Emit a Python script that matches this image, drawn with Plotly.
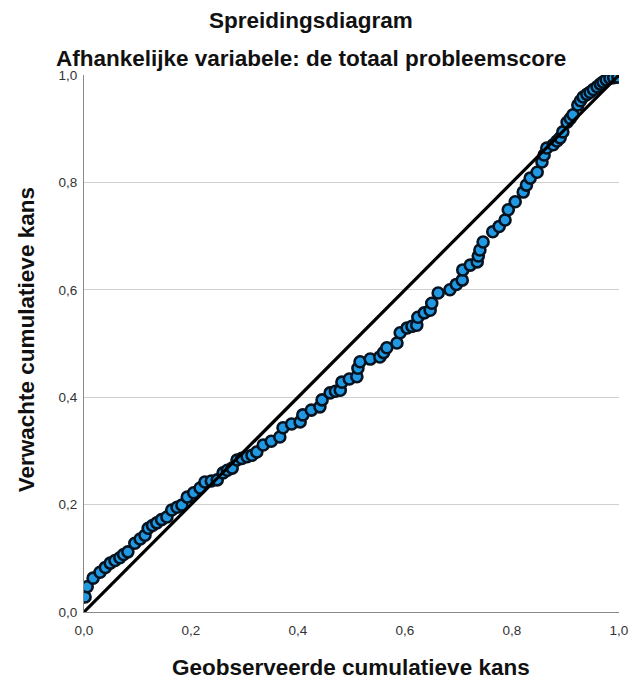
import plotly.graph_objects as go

observed = [0.002, 0.006, 0.017, 0.030, 0.040, 0.049, 0.058, 0.067, 0.074, 0.082,
            0.095, 0.105, 0.114, 0.120, 0.128, 0.136, 0.145, 0.155, 0.164, 0.174,
            0.183, 0.193, 0.205, 0.217, 0.226, 0.238, 0.249, 0.260, 0.268, 0.277,
            0.286, 0.295, 0.305, 0.314, 0.323, 0.335, 0.350, 0.366, 0.372, 0.388,
            0.404, 0.409, 0.425, 0.441, 0.445, 0.460, 0.470, 0.479, 0.482, 0.496,
            0.510, 0.512, 0.516, 0.535, 0.553, 0.560, 0.566, 0.585, 0.591, 0.604,
            0.613, 0.622, 0.624, 0.636, 0.647, 0.650, 0.662, 0.684, 0.696, 0.707,
            0.708, 0.722, 0.735, 0.737, 0.740, 0.746, 0.764, 0.776, 0.787, 0.793,
            0.806, 0.821, 0.827, 0.834, 0.847, 0.856, 0.860, 0.865, 0.877, 0.884,
            0.890, 0.895, 0.903, 0.909, 0.914, 0.923, 0.928, 0.933, 0.940, 0.946,
            0.952, 0.959, 0.965, 0.970, 0.976, 0.983, 0.990, 0.998]
expected = [0.028, 0.047, 0.063, 0.074, 0.083, 0.091, 0.096, 0.101, 0.107, 0.112,
            0.128, 0.136, 0.143, 0.156, 0.161, 0.166, 0.172, 0.177, 0.190, 0.195,
            0.199, 0.214, 0.222, 0.231, 0.242, 0.244, 0.246, 0.259, 0.264, 0.268,
            0.283, 0.286, 0.289, 0.292, 0.298, 0.311, 0.318, 0.326, 0.343, 0.350,
            0.354, 0.367, 0.376, 0.382, 0.395, 0.408, 0.411, 0.413, 0.428, 0.434,
            0.438, 0.454, 0.466, 0.471, 0.475, 0.483, 0.492, 0.501, 0.520, 0.529,
            0.532, 0.534, 0.549, 0.557, 0.562, 0.575, 0.594, 0.600, 0.610, 0.618,
            0.637, 0.646, 0.652, 0.663, 0.674, 0.689, 0.708, 0.718, 0.730, 0.749,
            0.764, 0.782, 0.795, 0.808, 0.819, 0.838, 0.851, 0.864, 0.870, 0.877,
            0.883, 0.894, 0.912, 0.919, 0.926, 0.944, 0.952, 0.959, 0.964, 0.968,
            0.973, 0.978, 0.983, 0.987, 0.991, 0.994, 0.995, 0.996]
ref_line = [0.0, 1.0]
tick_vals = [0.0, 0.2, 0.4, 0.6, 0.8, 1.0]

FONT = "Liberation Sans, Arial, sans-serif"

fig = go.Figure()
fig.add_trace(go.Scatter(
    x=observed, y=expected, mode="markers",
    marker=dict(size=11, color="#2198e2", line=dict(color="#061320", width=2.6)),
    hoverinfo="x+y", showlegend=False, cliponaxis=True))
fig.add_trace(go.Scatter(
    x=ref_line, y=ref_line, mode="lines",
    line=dict(color="#000000", width=3.2), showlegend=False))

fig.update_layout(
    width=632, height=684,
    margin=dict(l=84, r=13, t=75, b=72),
    paper_bgcolor="white", plot_bgcolor="white",
    separators=",.",
    font=dict(family=FONT, color="#222222"),
    annotations=[
        dict(text="<b>Spreidingsdiagram</b>", xref="paper", yref="paper",
             x=0.424, y=1.1024, xanchor="center", yanchor="middle", showarrow=False,
             font=dict(size=22.5, color="#111111")),
        dict(text="<b>Afhankelijke variabele: de totaal probleemscore</b>", xref="paper", yref="paper",
             x=0.424, y=1.031, xanchor="center", yanchor="middle", showarrow=False,
             font=dict(size=22.5, color="#111111")),
        dict(text="<b>Geobserveerde cumulatieve kans</b>", xref="paper", yref="paper",
             x=0.499, y=-0.104, xanchor="center", yanchor="middle", showarrow=False,
             font=dict(size=22.5, color="#111111")),
        dict(text="<b>Verwachte cumulatieve kans</b>", xref="paper", yref="paper",
             x=-0.108, y=0.5065, xanchor="center", yanchor="middle", showarrow=False,
             textangle=-90, font=dict(size=22.5, color="#111111")),
    ],
    xaxis=dict(range=[0, 1], tickvals=tick_vals, tickformat=".1f", automargin=False,
               showgrid=False, zeroline=False, showline=True, linecolor="#8a8a8a", linewidth=1,
               ticks="", ticklabelstandoff=6, tickfont=dict(size=13.5, color="#333333")),
    yaxis=dict(range=[0, 1], tickvals=tick_vals, tickformat=".1f", automargin=False,
               showgrid=True, gridcolor="#cfcfcf", gridwidth=1.2, zeroline=False,
               showline=True, linecolor="#8a8a8a", linewidth=1,
               ticks="", ticklabelstandoff=3, tickfont=dict(size=13.5, color="#333333")),
)

# remove the browser's default 8px body margin so the figure fills the window exactly
fig.write_html("out.html", config={"displayModeBar": False},
               post_script="document.body.style.margin='0';document.body.style.overflow='hidden';")
